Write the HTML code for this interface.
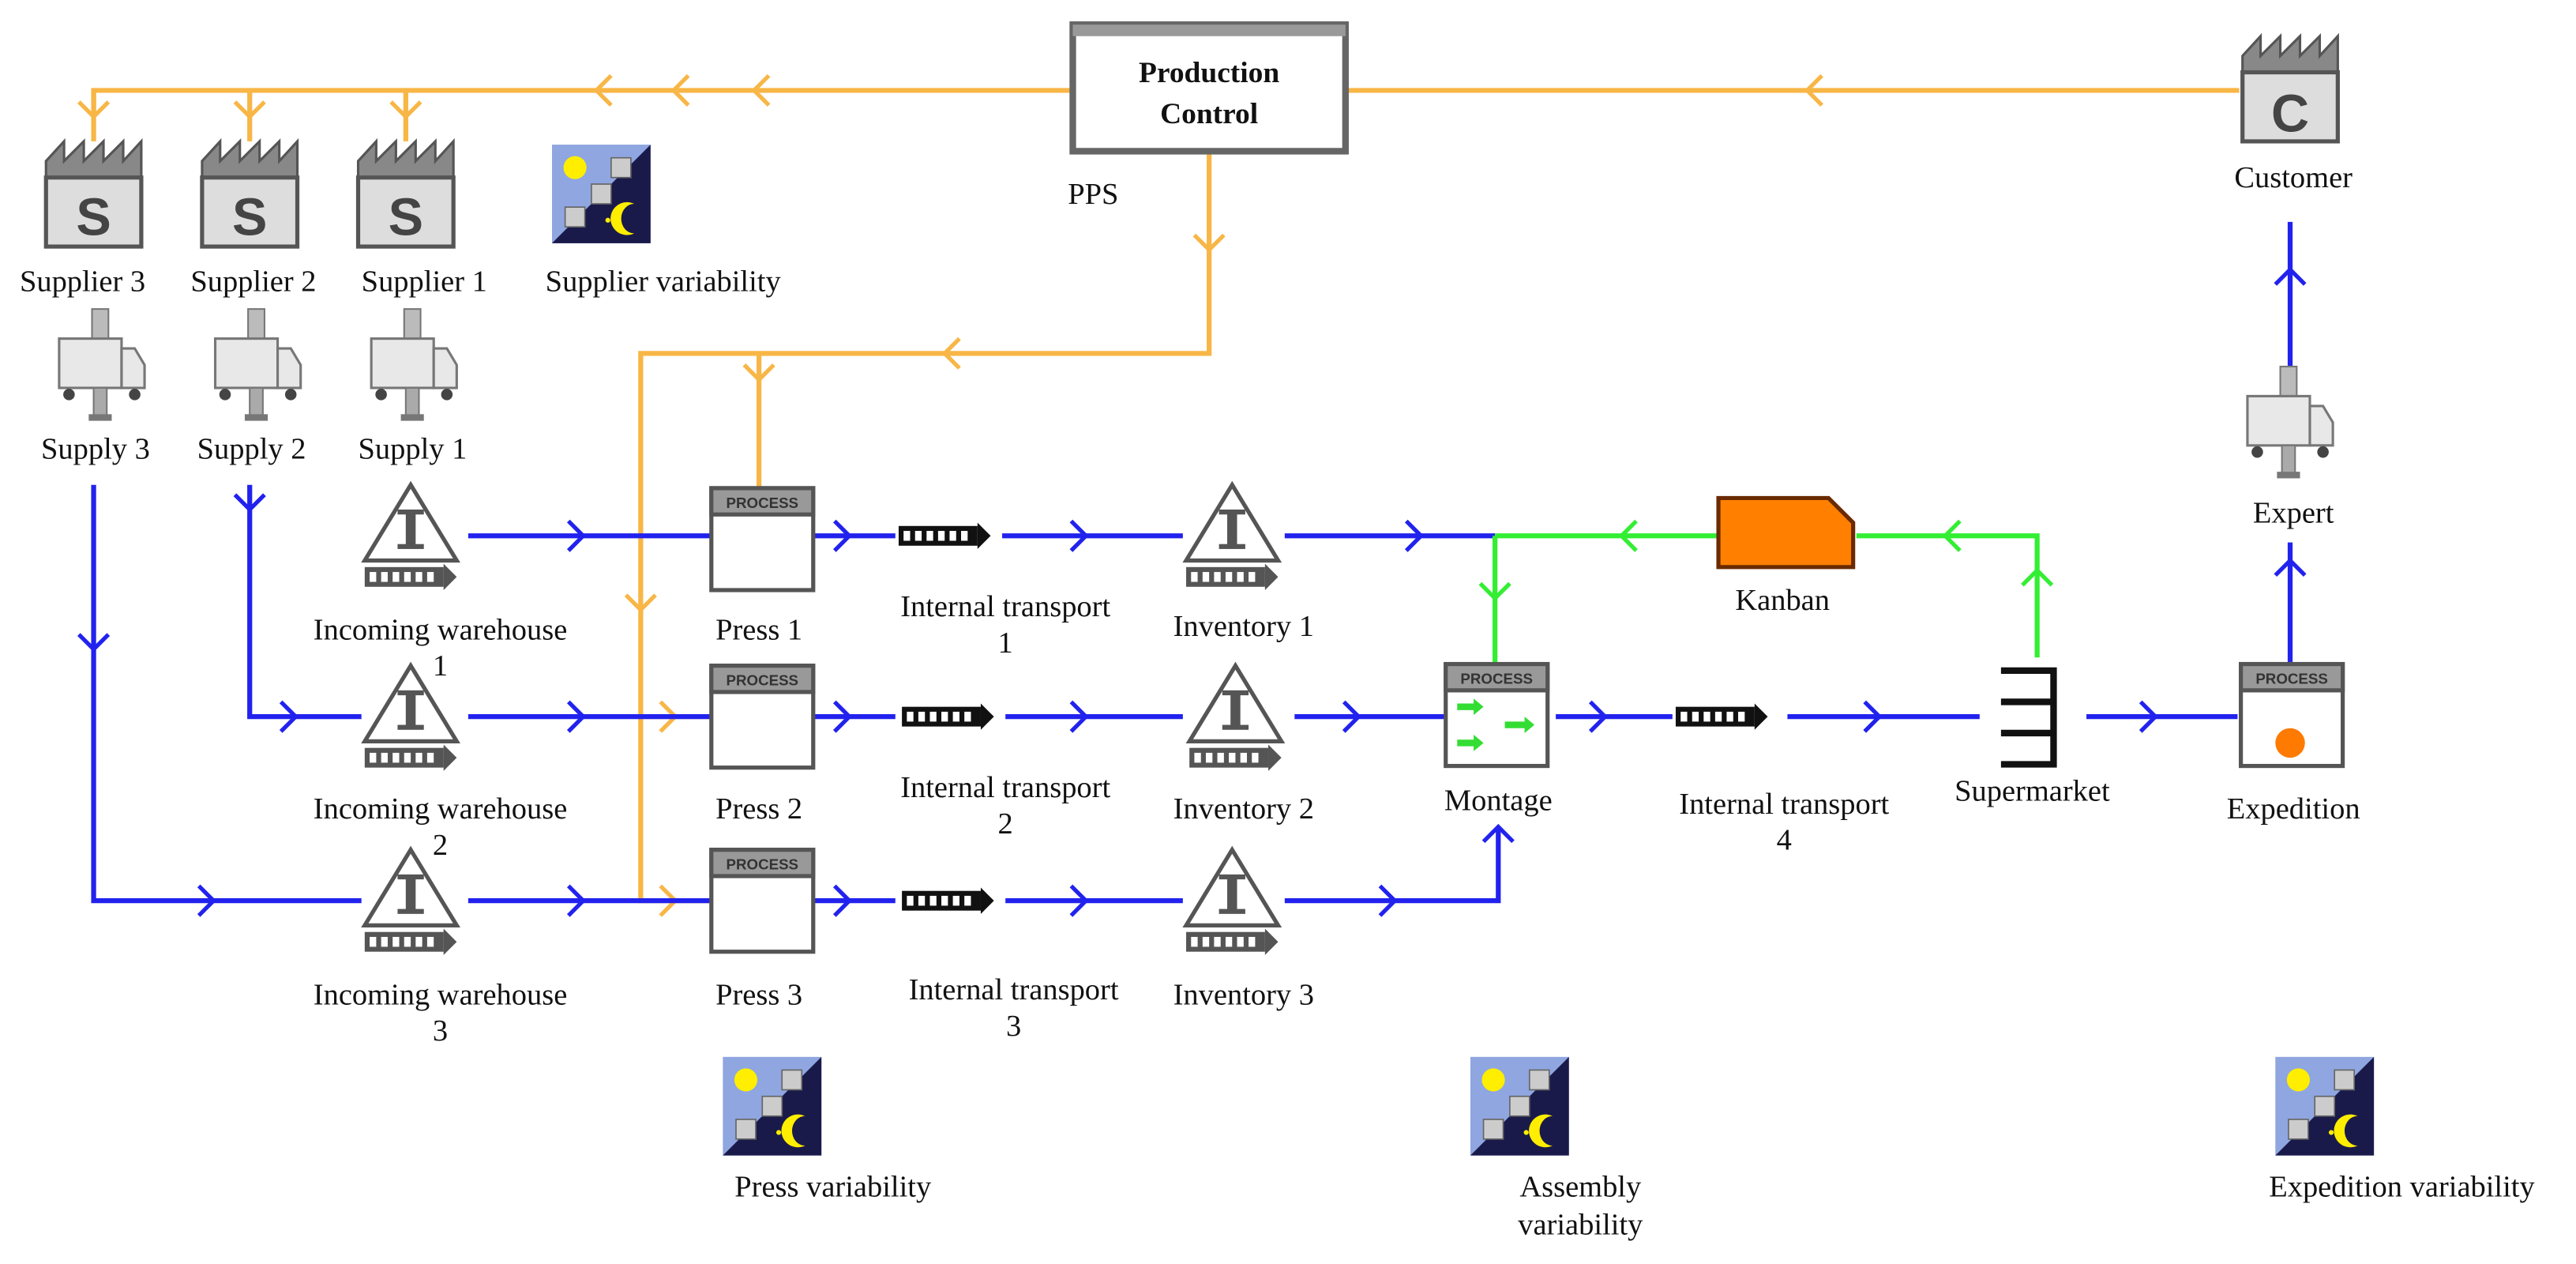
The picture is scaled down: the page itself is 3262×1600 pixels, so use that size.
<!DOCTYPE html>
<html><head><meta charset="utf-8"><style>
html,body{margin:0;padding:0;background:#fff;}
svg{display:block;}
text{font-family:"Liberation Serif",serif;font-size:18.5px;fill:#111;}
</style></head><body>
<svg width="3262" height="1600" viewBox="0 0 1568 769" preserveAspectRatio="none" xmlns="http://www.w3.org/2000/svg" font-family="Liberation Serif, serif">
<defs>
<g id="fac"><path d="M0,22 L0,12 L11,0 L11,12 L23,0 L23,12 L35,0 L35,12 L47,0 L47,12 L58,0 L58,22 Z" fill="#888" stroke="#555" stroke-width="1.5"/><rect x="0" y="22" width="58" height="42" fill="#ddd" stroke="#555" stroke-width="2.5"/></g>
<g id="truck"><rect x="26" y="0" width="10" height="20" fill="#bbb" stroke="#777"/><rect x="6" y="18" width="38" height="30" fill="#e8e8e8" stroke="#777" stroke-width="1.5"/><path d="M44,24 L52,24 L58,34 L58,48 L44,48Z" fill="#e8e8e8" stroke="#777" stroke-width="1.5"/><circle cx="12" cy="52" r="3.5" fill="#444"/><circle cx="52" cy="52" r="3.5" fill="#444"/><rect x="27" y="48" width="8" height="18" fill="#aaa" stroke="#777"/><rect x="24" y="64" width="14" height="4" fill="#777"/></g>
<g id="inv"><path d="M30,0 L58,46 L2,46 Z" fill="#fff" stroke="#555" stroke-width="2.5"/><rect x="27" y="16" width="6" height="22" fill="#555"/><rect x="22" y="15" width="16" height="3" fill="#555"/><rect x="22" y="36" width="16" height="3" fill="#555"/><g transform="translate(2,50)"><use href="#conv"/></g></g>
<g id="conv"><rect x="0" y="0" width="48" height="12" fill="#555"/><g fill="#fff"><rect x="3" y="3" width="4" height="6"/><rect x="10" y="3" width="4" height="6"/><rect x="17" y="3" width="4" height="6"/><rect x="24" y="3" width="4" height="6"/><rect x="31" y="3" width="4" height="6"/><rect x="38" y="3" width="4" height="6"/></g><path d="M48,-2 L56,6 L48,14Z" fill="#555"/></g>
<g id="convb"><rect x="0" y="0" width="48" height="12" fill="#111"/><g fill="#fff"><rect x="3" y="3" width="4" height="6"/><rect x="10" y="3" width="4" height="6"/><rect x="17" y="3" width="4" height="6"/><rect x="24" y="3" width="4" height="6"/><rect x="31" y="3" width="4" height="6"/><rect x="38" y="3" width="4" height="6"/></g><path d="M48,-2 L56,6 L48,14Z" fill="#111"/></g>
<g id="proc"><rect x="0" y="0" width="62" height="62" fill="#fff" stroke="#555" stroke-width="2.5"/><rect x="0" y="0" width="62" height="16" fill="#999" stroke="#555" stroke-width="2.5"/><text x="31" y="12" text-anchor="middle" style="font-family:'Liberation Sans',sans-serif;font-size:9px;font-weight:bold;fill:#333">PROCESS</text></g>
<g id="var"><rect x="0" y="0" width="60" height="60" fill="#8fa6e0"/><path d="M60,0 L60,60 L0,60 Z" fill="#1a1a4a"/><circle cx="14" cy="14" r="7" fill="#ffee00"/><g fill="#ccc" stroke="#666" stroke-width="0.8"><rect x="36" y="8" width="12" height="12"/><rect x="24" y="24" width="12" height="12"/><rect x="8" y="38" width="12" height="12"/></g><path d="M50,36 A10,10 0 1,0 50,54 A7,8 0 1,1 50,36Z" fill="#ffee00"/><circle cx="34" cy="46" r="1.5" fill="#ffee00"/></g>
</defs>

<!-- orange info lines -->
<g stroke="#f8b646" stroke-width="3" fill="none">
<path d="M57,68 L57,55 L653,55"/><path d="M152,55 L152,86"/><path d="M247,55 L247,86"/><path d="M57,55 L57,86"/>
<path d="M819,55 L1363,55"/>
<path d="M736,92 L736,215 L390,215 L390,548 L432,548"/><path d="M462,215 L462,297"/><path d="M390,436 L432,436"/>
<g stroke-width="2.5">
<polyline points="372,46 363,55 372,64"/><polyline points="419,46 410,55 419,64"/><polyline points="468,46 459,55 468,64"/>
<polyline points="1109,46 1100,55 1109,64"/>
<polyline points="48,62 57,71 66,62"/><polyline points="143,62 152,71 161,62"/><polyline points="238,62 247,71 256,62"/>
<polyline points="727,143 736,152 745,143"/><polyline points="584,206 575,215 584,224"/>
<polyline points="453,222 462,231 471,222"/><polyline points="381,362 390,371 399,362"/>
<polyline points="402,427 411,436 402,445"/><polyline points="402,539 411,548 402,557"/>
</g></g>

<!-- blue material lines -->
<g stroke="#2222ee" stroke-width="3" fill="none">
<path d="M57,295 L57,548 L220,548"/><path d="M152,295 L152,436 L220,436"/>
<path d="M285,326 L432,326"/><path d="M285,436 L432,436"/><path d="M285,548 L432,548"/>
<path d="M495,326 L545,326"/><path d="M495,436 L545,436"/><path d="M495,548 L545,548"/>
<path d="M610,326 L720,326"/><path d="M612,436 L720,436"/><path d="M612,548 L720,548"/>
<path d="M782,326 L910,326"/><path d="M788,436 L880,436"/><path d="M782,548 L912,548 L912,503"/>
<path d="M947,436 L1018,436"/><path d="M1088,436 L1205,436"/><path d="M1270,436 L1362,436"/>
<path d="M1394,403 L1394,330"/><path d="M1394,225 L1394,135"/>
<g stroke-width="2.5">
<polyline points="48,386 57,395 66,386"/><polyline points="121,539 130,548 121,557"/>
<polyline points="143,301 152,310 161,301"/><polyline points="171,427 180,436 171,445"/>
<polyline points="346,317 355,326 346,335"/><polyline points="346,427 355,436 346,445"/><polyline points="346,539 355,548 346,557"/>
<polyline points="508,317 517,326 508,335"/><polyline points="508,427 517,436 508,445"/><polyline points="508,539 517,548 508,557"/>
<polyline points="652,317 661,326 652,335"/><polyline points="652,427 661,436 652,445"/><polyline points="652,539 661,548 652,557"/>
<polyline points="856,317 865,326 856,335"/><polyline points="818,427 827,436 818,445"/><polyline points="840,539 849,548 840,557"/>
<polyline points="903,512 912,503 921,512"/>
<polyline points="968,427 977,436 968,445"/><polyline points="1135,427 1144,436 1135,445"/><polyline points="1303,427 1312,436 1303,445"/>
<polyline points="1385,350 1394,341 1403,350"/><polyline points="1385,173 1394,164 1403,173"/>
</g></g>

<!-- green kanban lines -->
<g stroke="#33ee33" stroke-width="3" fill="none">
<path d="M910,326 L1045,326"/><path d="M910,326 L910,403"/><path d="M1130,326 L1240,326 L1240,400"/>
<g stroke-width="2.5"><polyline points="996,317 987,326 996,335"/><polyline points="1193,317 1184,326 1193,335"/><polyline points="901,355 910,364 919,355"/><polyline points="1231,356 1240,347 1249,356"/></g>
</g>

<!-- production control -->
<rect x="653" y="15" width="166" height="77" fill="#fff" stroke="#666" stroke-width="4"/>
<rect x="653" y="15" width="166" height="7" fill="#999"/>
<text x="736" y="50" text-anchor="middle" style="font-weight:bold;font-size:18px">Production</text>
<text x="736" y="75" text-anchor="middle" style="font-weight:bold;font-size:18px">Control</text>
<text x="650" y="124">PPS</text>

<!-- suppliers -->
<use href="#fac" x="28" y="86"/><use href="#fac" x="123" y="86"/><use href="#fac" x="218" y="86"/>
<text x="57" y="143" text-anchor="middle" style="font-family:'Liberation Sans',sans-serif;font-size:32px;font-weight:bold;fill:#444">S</text><text x="152" y="143" text-anchor="middle" style="font-family:'Liberation Sans',sans-serif;font-size:32px;font-weight:bold;fill:#444">S</text><text x="247" y="143" text-anchor="middle" style="font-family:'Liberation Sans',sans-serif;font-size:32px;font-weight:bold;fill:#444">S</text>
<use href="#var" x="336" y="88"/>
<text x="12" y="177">Supplier 3</text><text x="116" y="177">Supplier 2</text><text x="220" y="177">Supplier 1</text><text x="332" y="177">Supplier variability</text>
<use href="#truck" x="30" y="188"/><use href="#truck" x="125" y="188"/><use href="#truck" x="220" y="188"/>
<text x="25" y="279">Supply 3</text><text x="120" y="279">Supply 2</text><text x="218" y="279">Supply 1</text>

<!-- customer -->
<use href="#fac" x="1365" y="22"/>
<text x="1394" y="80" text-anchor="middle" style="font-family:'Liberation Sans',sans-serif;font-size:32px;font-weight:bold;fill:#444">C</text>
<text x="1396" y="114" text-anchor="middle">Customer</text>
<use href="#truck" x="1362" y="223"/>
<text x="1396" y="318" text-anchor="middle">Expert</text>

<!-- warehouses -->
<use href="#inv" x="220" y="295"/><use href="#inv" x="220" y="405"/><use href="#inv" x="220" y="517"/>
<text x="268" y="389" text-anchor="middle">Incoming warehouse</text><text x="268" y="411" text-anchor="middle">1</text>
<text x="268" y="498" text-anchor="middle">Incoming warehouse</text><text x="268" y="520" text-anchor="middle">2</text>
<text x="268" y="611" text-anchor="middle">Incoming warehouse</text><text x="268" y="633" text-anchor="middle">3</text>

<!-- presses -->
<use href="#proc" x="433" y="297"/><use href="#proc" x="433" y="405"/><use href="#proc" x="433" y="517"/>
<text x="462" y="389" text-anchor="middle">Press 1</text><text x="462" y="498" text-anchor="middle">Press 2</text><text x="462" y="611" text-anchor="middle">Press 3</text>

<!-- internal transports -->
<use href="#convb" x="547" y="320"/><use href="#convb" x="549" y="430"/><use href="#convb" x="549" y="542"/>
<text x="612" y="375" text-anchor="middle">Internal transport</text><text x="612" y="397" text-anchor="middle">1</text>
<text x="612" y="485" text-anchor="middle">Internal transport</text><text x="612" y="507" text-anchor="middle">2</text>
<text x="617" y="608" text-anchor="middle">Internal transport</text><text x="617" y="630" text-anchor="middle">3</text>

<!-- inventories -->
<use href="#inv" x="720" y="295"/><use href="#inv" x="722" y="405"/><use href="#inv" x="720" y="517"/>
<text x="757" y="387" text-anchor="middle">Inventory 1</text><text x="757" y="498" text-anchor="middle">Inventory 2</text><text x="757" y="611" text-anchor="middle">Inventory 3</text>

<!-- montage -->
<use href="#proc" x="880" y="404"/>
<g fill="#33dd33"><path d="M887,428 h10 v-3 l6,5 -6,5 v-3 h-10z"/><path d="M887,450 h10 v-3 l6,5 -6,5 v-3 h-10z"/><path d="M916,439 h12 v-3 l6,5 -6,5 v-3 h-12z"/></g>
<text x="912" y="493" text-anchor="middle">Montage</text>

<use href="#convb" x="1020" y="430"/>
<text x="1086" y="495" text-anchor="middle">Internal transport</text><text x="1086" y="517" text-anchor="middle">4</text>

<!-- kanban -->
<path d="M1046,303 L1113,303 L1128,318 L1128,345 L1046,345 Z" fill="#ff8000" stroke="#6a2a00" stroke-width="2.5"/>
<text x="1085" y="371" text-anchor="middle">Kanban</text>

<!-- supermarket -->
<g stroke="#111" stroke-width="4" fill="none"><path d="M1218,408 L1250,408 L1250,465 L1218,465"/><path d="M1218,427 L1250,427"/><path d="M1218,446 L1250,446"/></g>
<text x="1237" y="487" text-anchor="middle">Supermarket</text>

<!-- expedition -->
<use href="#proc" x="1364" y="404"/>
<circle cx="1394" cy="452" r="9" fill="#ff7a00"/>
<text x="1396" y="498" text-anchor="middle">Expedition</text>

<!-- variability icons -->
<use href="#var" x="440" y="643"/><use href="#var" x="895" y="643"/><use href="#var" x="1385" y="643"/>
<text x="507" y="728" text-anchor="middle">Press variability</text>
<text x="962" y="728" text-anchor="middle">Assembly</text><text x="962" y="751" text-anchor="middle">variability</text>
<text x="1462" y="728" text-anchor="middle">Expedition variability</text>
</svg>
</body></html>
